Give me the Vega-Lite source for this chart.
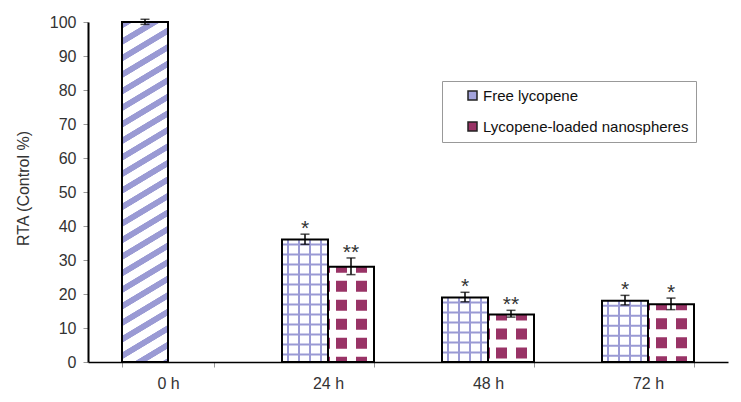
{
  "$schema": "https://vega.github.io/schema/vega-lite/v6.json",
  "width": 640,
  "height": 340,
  "autosize": {"type": "none"},
  "padding": {"left": 88, "top": 22, "right": 13, "bottom": 40},
  "background": "white",
  "config": {
    "font": "Liberation Sans",
    "view": {"stroke": null},
    "axis": {
      "labelFontSize": 16,
      "labelColor": "#333333",
      "titleFontSize": 16,
      "titleFontWeight": "normal",
      "titleColor": "#333333",
      "domainColor": "#000000",
      "tickColor": "#999999",
      "tickSize": 5,
      "grid": false
    },
    "axisY": {"domainWidth": 2, "labelPadding": 7, "titlePadding": 18, "tickCount": 10, "titleY": 166},
    "axisX": {"domainWidth": 1.5, "labelPadding": 8, "tickBand": "extent", "labelAngle": 0}
  },
  "data": {
    "values": [
      {"time": "0 h", "series": "Control", "value": 100, "lo": 99.3, "hi": 100.8, "star": ""},
      {"time": "24 h", "series": "Free lycopene", "value": 36, "lo": 34.6, "hi": 37.6, "star": "*"},
      {"time": "24 h", "series": "Lycopene-loaded nanospheres", "value": 28, "lo": 25.7, "hi": 30.6, "star": "**"},
      {"time": "48 h", "series": "Free lycopene", "value": 19, "lo": 17.7, "hi": 20.5, "star": "*"},
      {"time": "48 h", "series": "Lycopene-loaded nanospheres", "value": 14, "lo": 13.2, "hi": 15.2, "star": "**"},
      {"time": "72 h", "series": "Free lycopene", "value": 18, "lo": 16.8, "hi": 19.6, "star": "*"},
      {"time": "72 h", "series": "Lycopene-loaded nanospheres", "value": 17, "lo": 15.4, "hi": 18.8, "star": "*"}
    ]
  },
  "transform": [
    {"calculate": "datum.series === 'Lycopene-loaded nanospheres' ? 'b' : 'a'", "as": "slot"}
  ],
  "encoding": {
    "x": {
      "field": "time",
      "type": "nominal",
      "sort": null,
      "title": null,
      "scale": {"domain": ["0 h", "24 h", "48 h", "72 h"], "paddingInner": 0.425, "paddingOuter": 0.2125}
    },
    "xOffset": {"field": "slot", "type": "nominal", "scale": {"domain": ["a", "b"], "paddingInner": 0, "paddingOuter": 0}}
  },
  "layer": [
    {
      "mark": {"type": "bar"},
      "encoding": {
        "y": {"field": "value", "type": "quantitative", "title": "RTA (Control %)", "scale": {"domain": [0, 100]}},
        "color": {
          "field": "series",
          "type": "nominal",
          "scale": {"domain": ["Control", "Free lycopene", "Lycopene-loaded nanospheres"], "range": ["#9a9ad4", "#a3a3dc", "#993366"]},
          "legend": {
            "values": ["Free lycopene", "Lycopene-loaded nanospheres"],
            "orient": "none",
            "legendX": 354,
            "legendY": 59,
            "title": null,
            "padding": 7,
            "symbolOffset": 16,
            "symbolType": "square",
            "symbolSize": 81,
            "symbolStrokeColor": "#222222",
            "symbolStrokeWidth": 1.5,
            "labelFontSize": 15,
            "labelColor": "#111111",
            "labelOffset": 3,
            "labelLimit": 400,
            "rowPadding": 15,
            "strokeColor": "#999999",
            "fillColor": "white",
            "labelExpr": "datum.label + '\u00a0\u00a0\u00a0\u00a0\u00a0\u00a0'"
          }
        }
      }
    },
    {
      "transform": [{"filter": "datum.series === 'Control'"}],
      "mark": {
        "type": "bar",
        "fill": {
          "gradient": "linear", "x1": 0, "y1": 0, "x2": 0.0872, "y2": 1.074,
          "stops": [
            {"offset": 0, "color": "#9a9ad4"}, {"offset": 0.017, "color": "#9a9ad4"}, {"offset": 0.019, "color": "#ffffff"}, {"offset": 0.043, "color": "#ffffff"},
            {"offset": 0.045, "color": "#9a9ad4"}, {"offset": 0.062, "color": "#9a9ad4"}, {"offset": 0.064, "color": "#ffffff"}, {"offset": 0.088, "color": "#ffffff"},
            {"offset": 0.09, "color": "#9a9ad4"}, {"offset": 0.107, "color": "#9a9ad4"}, {"offset": 0.109, "color": "#ffffff"}, {"offset": 0.133, "color": "#ffffff"},
            {"offset": 0.135, "color": "#9a9ad4"}, {"offset": 0.152, "color": "#9a9ad4"}, {"offset": 0.154, "color": "#ffffff"}, {"offset": 0.178, "color": "#ffffff"},
            {"offset": 0.18, "color": "#9a9ad4"}, {"offset": 0.197, "color": "#9a9ad4"}, {"offset": 0.199, "color": "#ffffff"}, {"offset": 0.223, "color": "#ffffff"},
            {"offset": 0.225, "color": "#9a9ad4"}, {"offset": 0.242, "color": "#9a9ad4"}, {"offset": 0.244, "color": "#ffffff"}, {"offset": 0.268, "color": "#ffffff"},
            {"offset": 0.27, "color": "#9a9ad4"}, {"offset": 0.287, "color": "#9a9ad4"}, {"offset": 0.289, "color": "#ffffff"}, {"offset": 0.313, "color": "#ffffff"},
            {"offset": 0.315, "color": "#9a9ad4"}, {"offset": 0.332, "color": "#9a9ad4"}, {"offset": 0.334, "color": "#ffffff"}, {"offset": 0.358, "color": "#ffffff"},
            {"offset": 0.36, "color": "#9a9ad4"}, {"offset": 0.377, "color": "#9a9ad4"}, {"offset": 0.379, "color": "#ffffff"}, {"offset": 0.403, "color": "#ffffff"},
            {"offset": 0.405, "color": "#9a9ad4"}, {"offset": 0.422, "color": "#9a9ad4"}, {"offset": 0.424, "color": "#ffffff"}, {"offset": 0.448, "color": "#ffffff"},
            {"offset": 0.45, "color": "#9a9ad4"}, {"offset": 0.467, "color": "#9a9ad4"}, {"offset": 0.469, "color": "#ffffff"}, {"offset": 0.493, "color": "#ffffff"},
            {"offset": 0.495, "color": "#9a9ad4"}, {"offset": 0.512, "color": "#9a9ad4"}, {"offset": 0.514, "color": "#ffffff"}, {"offset": 0.538, "color": "#ffffff"},
            {"offset": 0.54, "color": "#9a9ad4"}, {"offset": 0.557, "color": "#9a9ad4"}, {"offset": 0.559, "color": "#ffffff"}, {"offset": 0.583, "color": "#ffffff"},
            {"offset": 0.585, "color": "#9a9ad4"}, {"offset": 0.602, "color": "#9a9ad4"}, {"offset": 0.604, "color": "#ffffff"}, {"offset": 0.628, "color": "#ffffff"},
            {"offset": 0.63, "color": "#9a9ad4"}, {"offset": 0.647, "color": "#9a9ad4"}, {"offset": 0.649, "color": "#ffffff"}, {"offset": 0.673, "color": "#ffffff"},
            {"offset": 0.675, "color": "#9a9ad4"}, {"offset": 0.692, "color": "#9a9ad4"}, {"offset": 0.694, "color": "#ffffff"}, {"offset": 0.718, "color": "#ffffff"},
            {"offset": 0.72, "color": "#9a9ad4"}, {"offset": 0.737, "color": "#9a9ad4"}, {"offset": 0.739, "color": "#ffffff"}, {"offset": 0.763, "color": "#ffffff"},
            {"offset": 0.765, "color": "#9a9ad4"}, {"offset": 0.782, "color": "#9a9ad4"}, {"offset": 0.784, "color": "#ffffff"}, {"offset": 0.808, "color": "#ffffff"},
            {"offset": 0.81, "color": "#9a9ad4"}, {"offset": 0.827, "color": "#9a9ad4"}, {"offset": 0.829, "color": "#ffffff"}, {"offset": 0.853, "color": "#ffffff"},
            {"offset": 0.855, "color": "#9a9ad4"}, {"offset": 0.872, "color": "#9a9ad4"}, {"offset": 0.874, "color": "#ffffff"}, {"offset": 0.898, "color": "#ffffff"},
            {"offset": 0.9, "color": "#9a9ad4"}, {"offset": 0.917, "color": "#9a9ad4"}, {"offset": 0.919, "color": "#ffffff"}, {"offset": 0.943, "color": "#ffffff"},
            {"offset": 0.945, "color": "#9a9ad4"}, {"offset": 0.962, "color": "#9a9ad4"}, {"offset": 0.964, "color": "#ffffff"}, {"offset": 0.988, "color": "#ffffff"},
            {"offset": 0.99, "color": "#9a9ad4"}, {"offset": 1, "color": "#9a9ad4"}
          ]
        }
      },
      "encoding": {"y": {"field": "value", "type": "quantitative", "title": "RTA (Control %)"}}
    },
    {
      "transform": [{"filter": "datum.series === 'Free lycopene'"}],
      "mark": {
        "type": "bar",
        "fill": {
          "gradient": "linear", "x1": 0, "y1": 0, "x2": 1, "y2": 0,
          "stops": [
            {"offset": 0, "color": "#ffffff"}, {"offset": 0.109, "color": "#ffffff"}, {"offset": 0.109, "color": "#9a9ad4"}, {"offset": 0.152, "color": "#9a9ad4"},
            {"offset": 0.152, "color": "#ffffff"}, {"offset": 0.348, "color": "#ffffff"}, {"offset": 0.348, "color": "#9a9ad4"}, {"offset": 0.391, "color": "#9a9ad4"},
            {"offset": 0.391, "color": "#ffffff"}, {"offset": 0.587, "color": "#ffffff"}, {"offset": 0.587, "color": "#9a9ad4"}, {"offset": 0.63, "color": "#9a9ad4"},
            {"offset": 0.63, "color": "#ffffff"}, {"offset": 0.826, "color": "#ffffff"}, {"offset": 0.826, "color": "#9a9ad4"}, {"offset": 0.87, "color": "#9a9ad4"},
            {"offset": 0.87, "color": "#ffffff"}, {"offset": 1, "color": "#ffffff"}
          ]
        }
      },
      "encoding": {"y": {"field": "value", "type": "quantitative", "title": "RTA (Control %)"}}
    },
    {
      "transform": [{"filter": "datum.series === 'Free lycopene'"}],
      "mark": {"type": "rule", "stroke": "#9a9ad4", "strokeWidth": 46, "strokeDash": [2, 8], "strokeDashOffset": -4, "strokeCap": "butt"},
      "encoding": {"y": {"field": "value", "type": "quantitative", "title": "RTA (Control %)"}, "y2": {"datum": 0}}
    },
    {
      "transform": [{"filter": "datum.series === 'Lycopene-loaded nanospheres'"}],
      "mark": {
        "type": "bar",
        "fill": {
          "gradient": "linear", "x1": 0, "y1": 0, "x2": 1, "y2": 0,
          "stops": [
            {"offset": 0, "color": "#993366"}, {"offset": 0.04, "color": "#993366"}, {"offset": 0.04, "color": "#ffffff"},
            {"offset": 0.18, "color": "#ffffff"}, {"offset": 0.18, "color": "#993366"}, {"offset": 0.42, "color": "#993366"},
            {"offset": 0.42, "color": "#ffffff"}, {"offset": 0.6, "color": "#ffffff"}, {"offset": 0.6, "color": "#993366"}, {"offset": 0.84, "color": "#993366"},
            {"offset": 0.84, "color": "#ffffff"}, {"offset": 1, "color": "#ffffff"}
          ]
        }
      },
      "encoding": {"y": {"field": "value", "type": "quantitative", "title": "RTA (Control %)"}}
    },
    {
      "transform": [{"filter": "datum.series === 'Lycopene-loaded nanospheres'"}],
      "mark": {"type": "rule", "stroke": "#ffffff", "strokeWidth": 46, "strokeDash": [8, 11], "strokeDashOffset": 13, "strokeCap": "butt"},
      "encoding": {"y": {"field": "value", "type": "quantitative", "title": "RTA (Control %)"}, "y2": {"datum": 0}}
    },
    {
      "mark": {"type": "bar", "fill": "white", "fillOpacity": 0, "stroke": "#000000", "strokeWidth": 2},
      "encoding": {"y": {"field": "value", "type": "quantitative", "title": "RTA (Control %)"}}
    },
    {
      "mark": {"type": "rule", "color": "#000000", "strokeWidth": 1.5},
      "encoding": {"y": {"field": "lo", "type": "quantitative", "title": "RTA (Control %)"}, "y2": {"field": "hi"}}
    },
    {
      "mark": {"type": "tick", "orient": "horizontal", "color": "#000000", "thickness": 1.5, "size": 9},
      "encoding": {"y": {"field": "hi", "type": "quantitative", "title": "RTA (Control %)"}}
    },
    {
      "mark": {"type": "tick", "orient": "horizontal", "color": "#000000", "thickness": 1.5, "size": 9},
      "encoding": {"y": {"field": "lo", "type": "quantitative", "title": "RTA (Control %)"}}
    },
    {
      "mark": {"type": "text", "fontSize": 21, "color": "#333333", "baseline": "alphabetic", "dy": 1},
      "encoding": {"y": {"field": "hi", "type": "quantitative", "title": "RTA (Control %)"}, "text": {"field": "star"}}
    }
  ]
}
